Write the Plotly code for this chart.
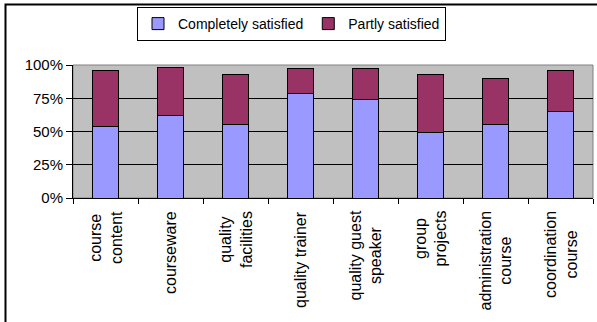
import plotly.graph_objects as go

categories = ["course<br>content", "courseware", "quality<br>facilities", "quality trainer",
              "quality guest<br>speaker", "group<br>projects", "administration<br>course",
              "coordination<br>course"]
completely = [0.54, 0.624, 0.549, 0.782, 0.737, 0.491, 0.549, 0.652]
partly = [0.416, 0.356, 0.376, 0.188, 0.233, 0.439, 0.346, 0.310]
y_ticks = [0, 0.25, 0.5, 0.75, 1.0]
y_tick_labels = ["0%", "25%", "50%", "75%", "100%"]

W, H = 597, 322
ml, mr, mt, mb = 73, 4, 65, 124
pw, ph = W - ml - mr, H - mt - mb

FONT = "Liberation Sans, Arial, sans-serif"

fig = go.Figure()
fig.add_trace(go.Bar(x=categories, y=completely, name="Completely satisfied",
                     marker=dict(color="#9999FF", line=dict(color="black", width=1)), width=0.4))
fig.add_trace(go.Bar(x=categories, y=partly, name="Partly satisfied",
                     marker=dict(color="#993366", line=dict(color="black", width=1)), width=0.4))

for c in categories:
    fig.add_annotation(x=c, xref="x", y=-11 / ph, yref="paper", text=c, textangle=-90,
                       showarrow=False, xanchor="center", yanchor="top", align="center",
                       font=dict(family=FONT, size=16, color="black"))

def px_x(p):
    return (p - ml) / pw

def px_y(p):
    return (H - mb - p) / ph

shapes = [
    dict(type="rect", xref="paper", yref="paper", x0=0, x1=1, y0=0, y1=1,
         line=dict(color="#808080", width=1), layer="below"),
    dict(type="rect", xref="paper", yref="paper", x0=px_x(5.5), x1=px_x(W + 5), y0=px_y(H + 5), y1=px_y(4.5),
         line=dict(color="black", width=2)),
]

fig.update_layout(
    width=W, height=H,
    margin=dict(l=ml, r=mr, t=mt, b=mb, autoexpand=False),
    barmode="stack",
    paper_bgcolor="white", plot_bgcolor="#C0C0C0",
    font=dict(family=FONT, size=14, color="black"),
    showlegend=True,
    legend=dict(orientation="h", x=px_x(291.5), xanchor="center", y=px_y(7), yanchor="top",
                bordercolor="black", borderwidth=1, bgcolor="white", traceorder="normal",
                font=dict(family=FONT, size=14), itemwidth=30),
    shapes=shapes,
    bargap=0.6,
)
fig.update_xaxes(showticklabels=False, ticks="outside", ticklen=5, tickcolor="black",
                 tickson="boundaries", showline=True, linecolor="black", linewidth=1,
                 showgrid=False)
fig.update_yaxes(range=[0, 1], tickvals=y_ticks, ticktext=y_tick_labels, ticks="outside",
                 ticklen=6, tickcolor="black", showline=True, linecolor="black", linewidth=1,
                 showgrid=True, gridcolor="black", gridwidth=1, zeroline=False,
                 tickfont=dict(family=FONT, size=15))

fig.write_html("out.html")
